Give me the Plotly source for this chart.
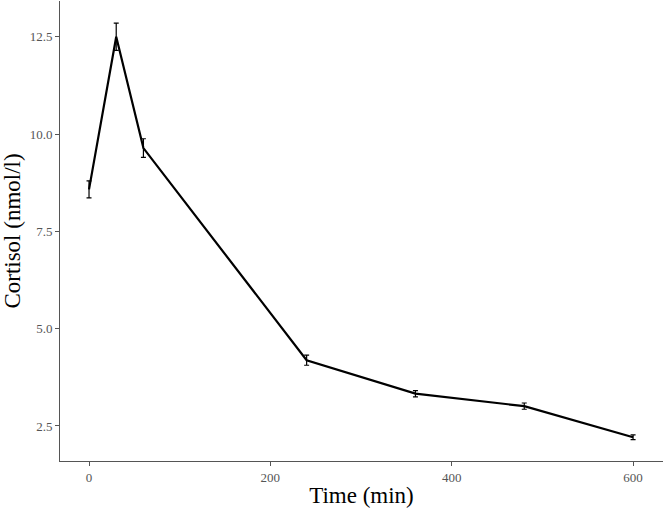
import plotly.graph_objects as go

time_min = [0, 30, 60, 240, 360, 480, 600]
cortisol = [8.58, 12.5, 9.64, 4.19, 3.33, 3.01, 2.21]
cortisol_err = [0.22, 0.35, 0.24, 0.13, 0.08, 0.08, 0.06]
x_ticks = [0, 200, 400, 600]
y_ticks = [2.5, 5.0, 7.5, 10.0, 12.5]

fig = go.Figure()
fig.add_trace(go.Scatter(
    x=time_min, y=cortisol, mode="lines",
    line=dict(color="black", width=2.2),
    error_y=dict(type="data", array=cortisol_err, visible=True,
                 color="black", thickness=1.2, width=2.5),
    showlegend=False,
))

axis_common = dict(
    showgrid=False, zeroline=False, showline=True, linecolor="#555555", linewidth=1,
    ticks="outside", ticklen=4, tickcolor="#555555", tickwidth=1,
    tickfont=dict(family="Liberation Serif", size=13, color="#555555"),
    title_font=dict(family="Liberation Serif", size=23, color="black"),
)

fig.update_layout(
    width=666, height=508,
    margin=dict(l=60, r=3, t=1, b=47),
    plot_bgcolor="white", paper_bgcolor="white",
    xaxis=dict(range=[-32, 633], tickvals=x_ticks, ticktext=[str(v) for v in x_ticks],
               title=dict(text="Time (min)", standoff=5), automargin=False, **axis_common),
    yaxis=dict(range=[1.6, 13.42], tickvals=y_ticks, ticktext=[f"{v:.1f}" for v in y_ticks],
               title=dict(text="Cortisol (nmol/l)", standoff=4), automargin=False, **axis_common),
)

fig.write_html("out.html", config={"displayModeBar": False},
               post_script="document.body.style.margin='0';document.body.style.overflow='hidden';")
